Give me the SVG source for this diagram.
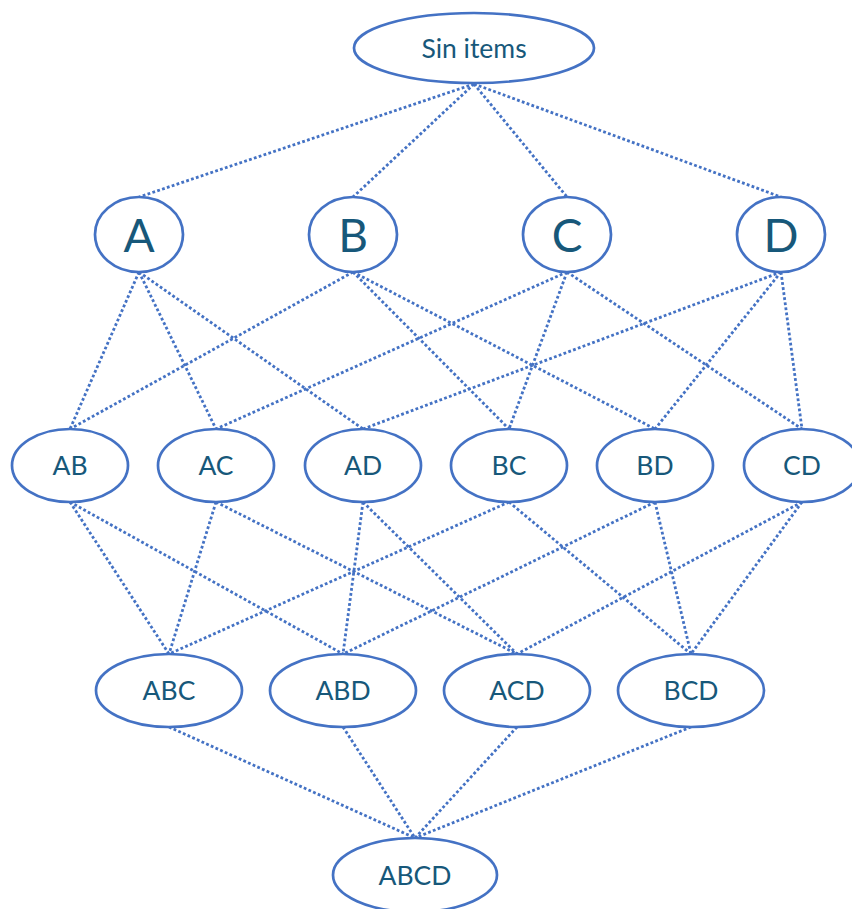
<svg xmlns="http://www.w3.org/2000/svg" width="852" height="909" viewBox="0 0 852 909">
  <style>
    .node ellipse { fill: #ffffff; stroke: #4472C4; stroke-width: 2.7; }
    .node text { font-family: Lato, "Open Sans", "Liberation Sans", sans-serif; fill: #17587A; text-anchor: middle; }
    .lbl { font-size: 26.5px; }
    .big { font-size: 46px; }
    #edges line { stroke: #4472C4; stroke-width: 2.8; stroke-dasharray: 2.8 2.3; fill: none; }
  </style>
  <rect width="852" height="909" fill="#ffffff"/>

  <!-- connectors between subsets -->
  <g id="edges">
    <!-- empty set to singletons -->
    <line x1="474" y1="84" x2="139" y2="197"/>
    <line x1="474" y1="84" x2="353" y2="197"/>
    <line x1="474" y1="84" x2="567" y2="197"/>
    <line x1="474" y1="84" x2="781" y2="197"/>
    <!-- singletons to pairs -->
    <line x1="139" y1="272" x2="70" y2="429"/>
    <line x1="139" y1="272" x2="216" y2="429"/>
    <line x1="139" y1="272" x2="363" y2="429"/>
    <line x1="353" y1="272" x2="70" y2="429"/>
    <line x1="353" y1="272" x2="509" y2="429"/>
    <line x1="353" y1="272" x2="655" y2="429"/>
    <line x1="567" y1="272" x2="216" y2="429"/>
    <line x1="567" y1="272" x2="509" y2="429"/>
    <line x1="567" y1="272" x2="802" y2="429"/>
    <line x1="781" y1="272" x2="363" y2="429"/>
    <line x1="781" y1="272" x2="655" y2="429"/>
    <line x1="781" y1="272" x2="802" y2="429"/>
    <!-- pairs to triples -->
    <line x1="70" y1="502" x2="169" y2="654"/>
    <line x1="70" y1="502" x2="343" y2="654"/>
    <line x1="216" y1="502" x2="169" y2="654"/>
    <line x1="216" y1="502" x2="517" y2="654"/>
    <line x1="363" y1="502" x2="343" y2="654"/>
    <line x1="363" y1="502" x2="517" y2="654"/>
    <line x1="509" y1="502" x2="169" y2="654"/>
    <line x1="509" y1="502" x2="691" y2="654"/>
    <line x1="655" y1="502" x2="343" y2="654"/>
    <line x1="655" y1="502" x2="691" y2="654"/>
    <line x1="802" y1="502" x2="517" y2="654"/>
    <line x1="802" y1="502" x2="691" y2="654"/>
    <!-- triples to full set -->
    <line x1="169" y1="727" x2="415" y2="838"/>
    <line x1="343" y1="727" x2="415" y2="838"/>
    <line x1="517" y1="727" x2="415" y2="838"/>
    <line x1="691" y1="727" x2="415" y2="838"/>
  </g>

  <g id="n-empty" class="node">
    <ellipse cx="474" cy="48" rx="120" ry="35"/>
    <text class="lbl" x="474" y="58">Sin items</text>
  </g>

  <g id="n-A" class="node">
    <ellipse cx="139" cy="234.5" rx="44" ry="37.5"/>
    <text class="big" x="139" y="252">A</text>
  </g>
  <g id="n-B" class="node">
    <ellipse cx="353" cy="234.5" rx="44" ry="37.5"/>
    <text class="big" x="353" y="252">B</text>
  </g>
  <g id="n-C" class="node">
    <ellipse cx="567" cy="234.5" rx="44" ry="37.5"/>
    <text class="big" x="567" y="252">C</text>
  </g>
  <g id="n-D" class="node">
    <ellipse cx="781" cy="234.5" rx="44" ry="37.5"/>
    <text class="big" x="781" y="252">D</text>
  </g>

  <g id="n-AB" class="node">
    <ellipse cx="70" cy="465.5" rx="58" ry="36.5"/>
    <text class="lbl" x="70" y="475">AB</text>
  </g>
  <g id="n-AC" class="node">
    <ellipse cx="216" cy="465.5" rx="58" ry="36.5"/>
    <text class="lbl" x="216" y="475">AC</text>
  </g>
  <g id="n-AD" class="node">
    <ellipse cx="363" cy="465.5" rx="58" ry="36.5"/>
    <text class="lbl" x="363" y="475">AD</text>
  </g>
  <g id="n-BC" class="node">
    <ellipse cx="509" cy="465.5" rx="58" ry="36.5"/>
    <text class="lbl" x="509" y="475">BC</text>
  </g>
  <g id="n-BD" class="node">
    <ellipse cx="655" cy="465.5" rx="58" ry="36.5"/>
    <text class="lbl" x="655" y="475">BD</text>
  </g>
  <g id="n-CD" class="node">
    <ellipse cx="802" cy="465.5" rx="58" ry="36.5"/>
    <text class="lbl" x="802" y="475">CD</text>
  </g>

  <g id="n-ABC" class="node">
    <ellipse cx="169" cy="690.5" rx="73" ry="36.5"/>
    <text class="lbl" x="169" y="700">ABC</text>
  </g>
  <g id="n-ABD" class="node">
    <ellipse cx="343" cy="690.5" rx="73" ry="36.5"/>
    <text class="lbl" x="343" y="700">ABD</text>
  </g>
  <g id="n-ACD" class="node">
    <ellipse cx="517" cy="690.5" rx="73" ry="36.5"/>
    <text class="lbl" x="517" y="700">ACD</text>
  </g>
  <g id="n-BCD" class="node">
    <ellipse cx="691" cy="690.5" rx="73" ry="36.5"/>
    <text class="lbl" x="691" y="700">BCD</text>
  </g>

  <g id="n-ABCD" class="node">
    <ellipse cx="415" cy="875" rx="82" ry="37"/>
    <text class="lbl" x="415" y="885">ABCD</text>
  </g>
</svg>
